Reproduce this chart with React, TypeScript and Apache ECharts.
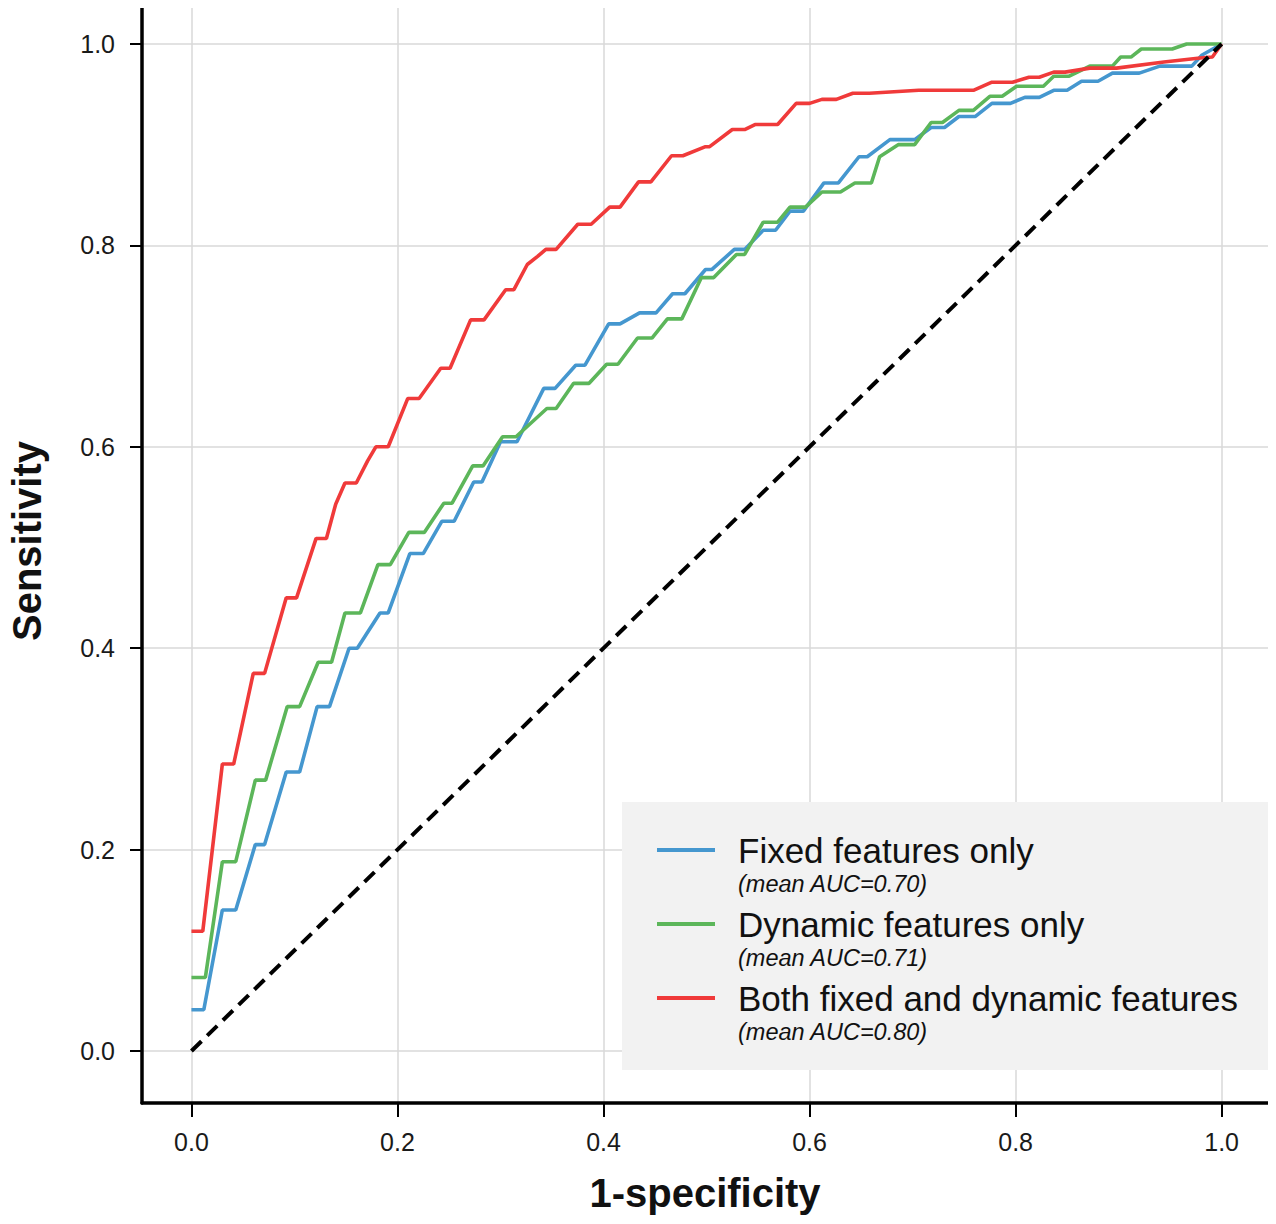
import React, { useEffect, useRef } from "react";
import * as echarts from "echarts";

const tickValues = [0, 0.2, 0.4, 0.6, 0.8, 1.0];

const seriesNames = ["Fixed features only", "Dynamic features only", "Both fixed and dynamic features"];
const aucLabels = ["(mean AUC=0.70)", "(mean AUC=0.71)", "(mean AUC=0.80)"];
const seriesColors = ["#4597cf", "#5cb65a", "#f03a3a"];

const fixedX = [0, 0.012, 0.030, 0.043, 0.062, 0.071, 0.092, 0.105, 0.122, 0.134, 0.153, 0.161, 0.183, 0.191, 0.212, 0.225, 0.243, 0.255, 0.274, 0.282, 0.300, 0.316, 0.342, 0.353, 0.373, 0.382, 0.405, 0.416, 0.435, 0.451, 0.467, 0.479, 0.499, 0.505, 0.527, 0.537, 0.555, 0.567, 0.581, 0.594, 0.614, 0.628, 0.648, 0.656, 0.678, 0.702, 0.718, 0.731, 0.745, 0.761, 0.777, 0.795, 0.809, 0.823, 0.837, 0.850, 0.864, 0.880, 0.894, 0.920, 0.940, 0.971, 0.981, 1.0];
const fixedY = [0.041, 0.041, 0.140, 0.140, 0.205, 0.205, 0.277, 0.277, 0.342, 0.342, 0.400, 0.400, 0.435, 0.435, 0.494, 0.494, 0.526, 0.526, 0.565, 0.565, 0.605, 0.605, 0.658, 0.658, 0.681, 0.681, 0.722, 0.722, 0.733, 0.733, 0.752, 0.752, 0.776, 0.776, 0.796, 0.796, 0.815, 0.815, 0.834, 0.834, 0.862, 0.862, 0.888, 0.888, 0.905, 0.905, 0.917, 0.917, 0.928, 0.928, 0.941, 0.941, 0.947, 0.947, 0.954, 0.954, 0.963, 0.963, 0.971, 0.971, 0.978, 0.978, 0.989, 1.0];

const dynamicX = [0, 0.0135, 0.030, 0.043, 0.062, 0.072, 0.093, 0.105, 0.123, 0.136, 0.149, 0.164, 0.181, 0.193, 0.211, 0.226, 0.245, 0.253, 0.273, 0.283, 0.302, 0.315, 0.345, 0.354, 0.371, 0.386, 0.403, 0.414, 0.433, 0.447, 0.462, 0.476, 0.495, 0.507, 0.529, 0.537, 0.555, 0.569, 0.581, 0.596, 0.612, 0.630, 0.644, 0.660, 0.668, 0.686, 0.702, 0.718, 0.729, 0.745, 0.759, 0.775, 0.787, 0.801, 0.827, 0.837, 0.852, 0.872, 0.894, 0.902, 0.912, 0.922, 0.952, 0.966, 1.0];
const dynamicY = [0.073, 0.073, 0.188, 0.188, 0.269, 0.269, 0.342, 0.342, 0.386, 0.386, 0.435, 0.435, 0.483, 0.483, 0.515, 0.515, 0.544, 0.544, 0.581, 0.581, 0.610, 0.610, 0.638, 0.638, 0.663, 0.663, 0.682, 0.682, 0.708, 0.708, 0.727, 0.727, 0.768, 0.768, 0.791, 0.791, 0.823, 0.823, 0.838, 0.838, 0.853, 0.853, 0.862, 0.862, 0.888, 0.900, 0.900, 0.922, 0.922, 0.934, 0.934, 0.948, 0.948, 0.958, 0.958, 0.968, 0.968, 0.978, 0.978, 0.987, 0.987, 0.995, 0.995, 1.0, 1.0];

const bothX = [0, 0.011, 0.030, 0.041, 0.060, 0.071, 0.092, 0.102, 0.121, 0.131, 0.140, 0.149, 0.160, 0.171, 0.179, 0.191, 0.210, 0.221, 0.242, 0.251, 0.271, 0.284, 0.305, 0.313, 0.326, 0.336, 0.344, 0.354, 0.375, 0.388, 0.406, 0.416, 0.434, 0.446, 0.466, 0.477, 0.499, 0.503, 0.525, 0.537, 0.547, 0.569, 0.587, 0.600, 0.612, 0.626, 0.642, 0.658, 0.706, 0.759, 0.777, 0.797, 0.813, 0.823, 0.837, 0.848, 0.872, 0.898, 0.944, 0.979, 0.991, 1.0];
const bothY = [0.119, 0.119, 0.285, 0.285, 0.375, 0.375, 0.450, 0.450, 0.509, 0.509, 0.543, 0.564, 0.564, 0.586, 0.600, 0.600, 0.648, 0.648, 0.678, 0.678, 0.726, 0.726, 0.756, 0.756, 0.781, 0.789, 0.796, 0.796, 0.821, 0.821, 0.838, 0.838, 0.863, 0.863, 0.889, 0.889, 0.898, 0.898, 0.915, 0.915, 0.920, 0.920, 0.941, 0.941, 0.945, 0.945, 0.951, 0.951, 0.954, 0.954, 0.962, 0.962, 0.967, 0.967, 0.972, 0.972, 0.976, 0.976, 0.982, 0.986, 0.987, 1.0];

const chanceX = [0, 1];
const chanceY = [0, 1];

const zip = (xs: number[], ys: number[]) => xs.map((x, i) => [x, ys[i]]);

const FONT = "'Liberation Sans', Arial, Helvetica, sans-serif";

export default function App() {
  const ref = useRef<HTMLDivElement>(null);

  useEffect(() => {
    if (!ref.current) return;
    const chart = echarts.init(ref.current, null, { renderer: "svg" });

    const curves = [zip(fixedX, fixedY), zip(dynamicX, dynamicY), zip(bothX, bothY)];

    const legendItems: any[] = [];
    legendItems.push({
      type: "rect",
      shape: { x: 614, y: 794, width: 646, height: 268 },
      style: { fill: "#f2f2f2" },
      z: 100,
    });
    seriesNames.forEach((name, i) => {
      const cy = 842 + i * 74;
      legendItems.push({
        type: "line",
        shape: { x1: 649, y1: cy, x2: 707, y2: cy },
        style: { stroke: seriesColors[i], lineWidth: 4 },
        z: 101,
      });
      legendItems.push({
        type: "text",
        x: 730,
        y: cy,
        style: {
          text: name,
          fill: "#111",
          font: `35px ${FONT}`,
          textVerticalAlign: "middle",
          textAlign: "left",
        },
        z: 101,
      });
      legendItems.push({
        type: "text",
        x: 730,
        y: cy + 34,
        style: {
          text: aucLabels[i],
          fill: "#111",
          font: `italic 23.5px ${FONT}`,
          textVerticalAlign: "middle",
          textAlign: "left",
        },
        z: 101,
      });
    });

    const option: any = {
      animation: false,
      backgroundColor: "#ffffff",
      grid: { left: 134, right: 8, top: 0, bottom: 121, containLabel: false },
      xAxis: {
        type: "value",
        min: -0.048,
        max: 1.045,
        axisLine: { show: true, onZero: false, lineStyle: { color: "#000", width: 3.5 } },
        axisTick: { show: true, length: 14, lineStyle: { color: "#000", width: 2 }, customValues: tickValues },
        axisLabel: {
          customValues: tickValues,
          formatter: (v: number) => v.toFixed(1),
          fontSize: 25,
          color: "#1a1a1a",
          margin: 26,
          fontFamily: FONT,
        },
        splitLine: { show: true, lineStyle: { color: "#d8d8d8", width: 1.5 } },
      },
      yAxis: {
        type: "value",
        min: -0.0516,
        max: 1.0357,
        axisLine: { show: true, onZero: false, lineStyle: { color: "#000", width: 3.5 } },
        axisTick: { show: true, length: 12, lineStyle: { color: "#000", width: 2 }, customValues: tickValues },
        axisLabel: {
          customValues: tickValues,
          formatter: (v: number) => v.toFixed(1),
          fontSize: 25,
          color: "#1a1a1a",
          margin: 27,
          fontFamily: FONT,
        },
        splitLine: { show: true, lineStyle: { color: "#d8d8d8", width: 1.5 } },
      },
      series: [
        ...seriesNames.map((name, i) => ({
          name,
          type: "line",
          data: curves[i],
          showSymbol: false,
          symbol: "none",
          lineStyle: { color: seriesColors[i], width: 3.6 },
          z: 2 + i,
        })),
        {
          name: "chance",
          type: "line",
          data: zip(chanceX, chanceY),
          showSymbol: false,
          symbol: "none",
          lineStyle: { color: "#000", width: 4, type: [14, 8] },
          z: 10,
        },
      ],
      graphic: [
        ...legendItems,
        {
          type: "text",
          x: 697,
          y: 1185,
          style: {
            text: "1-specificity",
            fill: "#111",
            font: `bold 40px ${FONT}`,
            textAlign: "center",
            textVerticalAlign: "middle",
          },
        },
        {
          type: "text",
          x: 19,
          y: 533,
          rotation: Math.PI / 2,
          style: {
            text: "Sensitivity",
            fill: "#111",
            font: `bold 40px ${FONT}`,
            textAlign: "center",
            textVerticalAlign: "middle",
          },
        },
      ],
    };

    chart.setOption(option);
    return () => chart.dispose();
  }, []);

  return <div ref={ref} style={{ width: 1268, height: 1216 }} />;
}
